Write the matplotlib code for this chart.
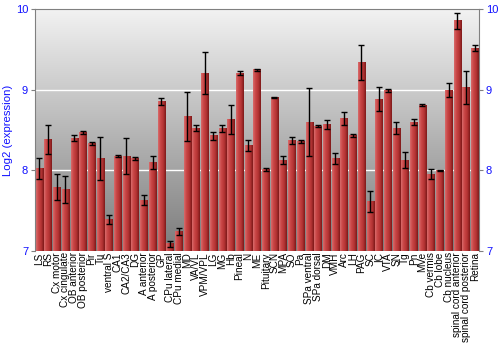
import matplotlib
matplotlib.use("Agg")
import matplotlib.pyplot as plt
from matplotlib.colors import LinearSegmentedColormap
import numpy as np

plt.rcParams['font.family'] = ['Liberation Sans', 'DejaVu Sans']

# regions and log2 expression (mean, error)
regions = ["LS", "RS", "Cx motor", "Cx cingulate", "OB anterior", "OB posterior",
           "Pir", "Tu", "ventral S", "CA1", "CA2/CA3", "DG", "A anterior",
           "A posterior", "GP", "CPu lateral", "CPu medial", "MD", "VA/VL",
           "VPM/VPL", "LG", "MG", "Hb", "Pineal", "N", "ME", "Pituitary", "SCN",
           "MPA", "SO", "Pa", "SPa ventral", "SPa dorsal", "DM", "VMH", "Arc",
           "LH", "PAG", "SC", "IC", "VTA", "SN", "Tg", "Pn", "MVe", "Cb vermis",
           "Cb lobe", "Cb nucleus", "spinal cord anterior",
           "spinal cord posterior", "Retina"]
expr = [8.03, 8.385, 7.79, 7.76, 8.40, 8.47, 8.33, 8.15, 7.39, 8.18, 8.18, 8.15,
        7.63, 8.10, 8.86, 7.09, 7.245, 8.67, 8.525, 9.21, 8.43, 8.52, 8.63, 9.21,
        8.31, 9.25, 8.01, 8.91, 8.13, 8.37, 8.36, 8.60, 8.55, 8.57, 8.145, 8.65,
        8.43, 9.34, 7.615, 8.885, 8.99, 8.525, 8.13, 8.60, 8.81, 7.955, 8.00,
        9.00, 9.86, 9.03, 9.52]
err = [0.13, 0.185, 0.16, 0.17, 0.04, 0.015, 0.02, 0.27, 0.06, 0.01, 0.22, 0.02,
       0.065, 0.085, 0.045, 0.035, 0.045, 0.31, 0.035, 0.265, 0.05, 0.045, 0.18,
       0.02, 0.07, 0.01, 0.02, 0.005, 0.055, 0.04, 0.02, 0.42, 0.01, 0.055, 0.07,
       0.08, 0.02, 0.22, 0.135, 0.15, 0.02, 0.075, 0.1, 0.035, 0.01, 0.065, 0.005,
       0.09, 0.1, 0.205, 0.04]

ymin, ymax = 7, 10
blue = "#1010ff"

fig = plt.figure(figsize=(5, 3.5), dpi=100)
ax = fig.add_axes([0.07, 0.283, 0.888, 0.69])

n = len(regions)
x = np.arange(n)
w = 0.84

# gray gradient background
bg = LinearSegmentedColormap.from_list("bg", ["#7c7c7c", "#f2f2f2"])
ax.imshow(np.linspace(0, 1, 256).reshape(-1, 1), extent=[-0.5, n - 0.5, ymin, ymax],
          aspect="auto", origin="lower", cmap=bg, zorder=0)

for yv in [8, 9]:
    ax.axhline(yv, color="white", lw=1, zorder=1)

# red bars with a horizontal shading
barcm = LinearSegmentedColormap.from_list("bar", ["#d86a6a", "#c84444", "#b43434", "#7e1a1a"])
shade = np.linspace(0, 1, 32).reshape(1, -1)
for xi, v in zip(x, expr):
    ax.imshow(shade, extent=[xi - w / 2, xi + w / 2, ymin, v], aspect="auto",
              cmap=barcm, zorder=2)
ax.errorbar(x, expr, yerr=err, fmt="none", ecolor="black", elinewidth=1,
            capsize=2.2, capthick=1, zorder=3)

ax.set_xlim(-0.5, n - 0.5)
ax.set_ylim(ymin, ymax)
ax.set_xticks(x)
ax.set_xticklabels(regions, rotation=90, fontsize=7.2)
ax.tick_params(axis="x", length=0, pad=1)
ax.set_yticks([7, 8, 9, 10])
ax.tick_params(axis="y", colors="#808080", labelcolor=blue, labelsize=8,
               length=3, right=True, labelright=True, pad=2)
ax.set_ylabel("Log2 (expression)", color=blue, fontsize=8.2, labelpad=2)

for s in ["left", "right", "top"]:
    ax.spines[s].set_color("#808080")
ax.spines["bottom"].set_visible(False)

fig.savefig("out.png", dpi=100)
